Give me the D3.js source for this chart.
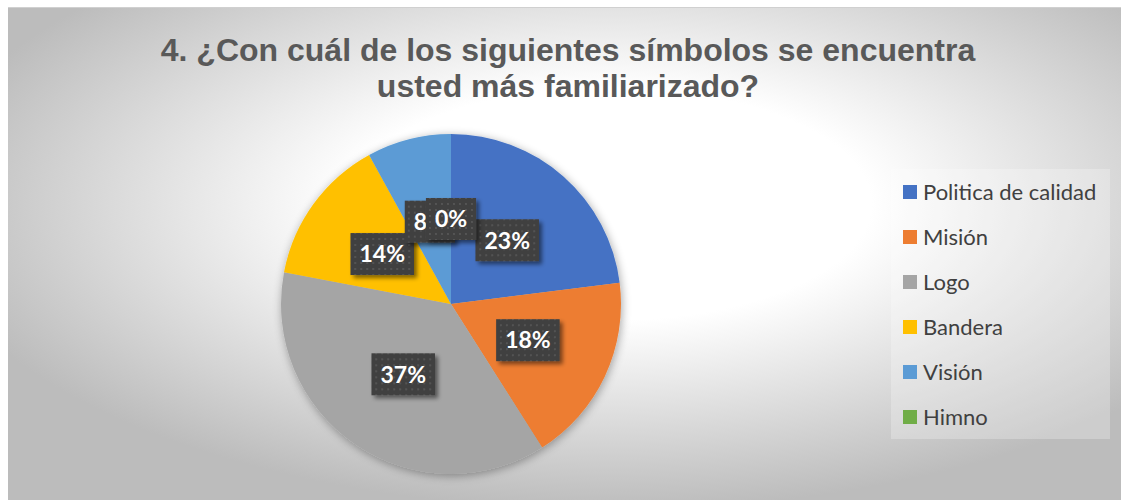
<!DOCTYPE html>
<html>
<head>
<meta charset="utf-8">
<script src="https://cdn.jsdelivr.net/npm/d3@7"></script>
<style>
  html, body { margin: 0; padding: 0; background: #ffffff; }
  svg { display: block; }
</style>
</head>
<body>
<svg id="chart" width="1121" height="500"></svg>
<script>
// Survey answers: share of respondents per symbol (percent)
const categories = ["Politica de calidad", "Misión", "Logo", "Bandera", "Visión", "Himno"];
const values = [23, 18, 37, 14, 8, 0];
const colors = ["#4472C4", "#ED7D31", "#A5A5A5", "#FFC000", "#5B9BD5", "#70AD47"];
const titleLines = ["4. ¿Con cuál de los siguientes símbolos se encuentra", "usted más familiarizado?"];

const W = 1121, H = 500;
const svg = d3.select("#chart");
const defs = svg.append("defs");

// Radial background of the chart area
const bg = defs.append("radialGradient").attr("id", "bgGrad")
  .attr("cx", "54%").attr("cy", "40%").attr("r", "62%");
bg.append("stop").attr("offset", "0%").attr("stop-color", "#ffffff");
bg.append("stop").attr("offset", "38%").attr("stop-color", "#ffffff");
bg.append("stop").attr("offset", "100%").attr("stop-color", "#bcbcbc");

// Soft shadow for the pie
const pieShadow = defs.append("filter").attr("id", "pieShadow")
  .attr("x", "-20%").attr("y", "-20%").attr("width", "140%").attr("height", "140%");
pieShadow.append("feGaussianBlur").attr("in", "SourceAlpha").attr("stdDeviation", 5).attr("result", "b");
pieShadow.append("feOffset").attr("in", "b").attr("dx", 1).attr("dy", 2).attr("result", "o");
pieShadow.append("feComponentTransfer").attr("in", "o").attr("result", "s")
  .append("feFuncA").attr("type", "linear").attr("slope", 0.35);
const pm = pieShadow.append("feMerge");
pm.append("feMergeNode").attr("in", "s");
pm.append("feMergeNode").attr("in", "SourceGraphic");

// Shadow for the data label boxes
const lblShadow = defs.append("filter").attr("id", "lblShadow")
  .attr("x", "-30%").attr("y", "-30%").attr("width", "160%").attr("height", "160%");
lblShadow.append("feGaussianBlur").attr("in", "SourceAlpha").attr("stdDeviation", 2).attr("result", "b");
lblShadow.append("feOffset").attr("in", "b").attr("dx", 3).attr("dy", 3).attr("result", "o");
lblShadow.append("feComponentTransfer").attr("in", "o").attr("result", "s")
  .append("feFuncA").attr("type", "linear").attr("slope", 0.5);
const lm = lblShadow.append("feMerge");
lm.append("feMergeNode").attr("in", "s");
lm.append("feMergeNode").attr("in", "SourceGraphic");

// Dotted dark fill for label boxes
const pat = defs.append("pattern").attr("id", "dots")
  .attr("patternUnits", "userSpaceOnUse").attr("width", 6).attr("height", 6);
pat.append("rect").attr("width", 6).attr("height", 6).attr("fill", "#404040");
pat.append("circle").attr("cx", 3).attr("cy", 3).attr("r", 0.9).attr("fill", "#5c5c5c");

// Chart area
svg.append("rect").attr("x", 0).attr("y", 0).attr("width", W).attr("height", H).attr("fill", "#ffffff");
svg.append("rect").attr("x", 8).attr("y", 7).attr("width", W - 8).attr("height", H - 7)
  .attr("fill", "url(#bgGrad)");
svg.append("line").attr("x1", 8).attr("x2", W).attr("y1", 7.5).attr("y2", 7.5)
  .attr("stroke", "#d0d0d0").attr("stroke-width", 1);

// Title
const title = svg.append("text")
  .attr("text-anchor", "middle")
  .attr("font-family", "'Liberation Sans', Arial, sans-serif")
  .attr("font-weight", "bold")
  .attr("font-size", 32)
  .attr("fill", "#595959");
titleLines.forEach((t, i) => {
  title.append("tspan").attr("x", 568).attr("y", 61 + i * 36).text(t);
});

// Pie
const cx = 451, cy = 304, R = 170;
const pie = d3.pie().value(d => d).sort(null);
const arcs = pie(values);
const arc = d3.arc().innerRadius(0).outerRadius(R);

const g = svg.append("g").attr("transform", `translate(${cx},${cy})`);
g.append("g").attr("filter", "url(#pieShadow)")
  .selectAll("path").data(arcs).join("path")
  .attr("d", arc)
  .attr("fill", (d, i) => colors[i]);

// Data labels at slice centroids
const labels = g.append("g").selectAll("g").data(arcs).join("g")
  .attr("transform", d => `translate(${arc.centroid(d)})`);
labels.each(function (d) {
  const sel = d3.select(this);
  const box = sel.append("rect").attr("fill", "url(#dots)").attr("filter", "url(#lblShadow)");
  const txt = sel.append("text")
    .attr("text-anchor", "middle")
    .attr("dy", "0.36em")
    .attr("font-family", "Lato, 'Open Sans', sans-serif")
    .attr("font-weight", "bold")
    .attr("font-size", 23)
    .attr("fill", "#ffffff")
    .text(d3.format(".0f")(d.data) + "%");
  const bw = txt.node().getComputedTextLength() + 18;
  const bh = 42;
  box.attr("x", -bw / 2).attr("y", -bh / 2).attr("width", bw).attr("height", bh);
});

// Legend
const legend = svg.append("g");
legend.append("rect").attr("x", 891).attr("y", 169).attr("width", 219).attr("height", 270)
  .attr("fill", "#ffffff").attr("fill-opacity", 0.25);
const item = legend.selectAll("g.item").data(categories).join("g").attr("class", "item")
  .attr("transform", (d, i) => `translate(903, ${192 + i * 45})`);
item.append("rect").attr("x", 0).attr("y", -7).attr("width", 14).attr("height", 14)
  .attr("fill", (d, i) => colors[i]);
item.append("text").attr("x", 20).attr("dy", "0.35em")
  .attr("font-family", "Lato, 'Open Sans', sans-serif")
  .attr("font-size", 22)
  .attr("fill", "#404040")
  .text(d => d);
</script>
</body>
</html>
